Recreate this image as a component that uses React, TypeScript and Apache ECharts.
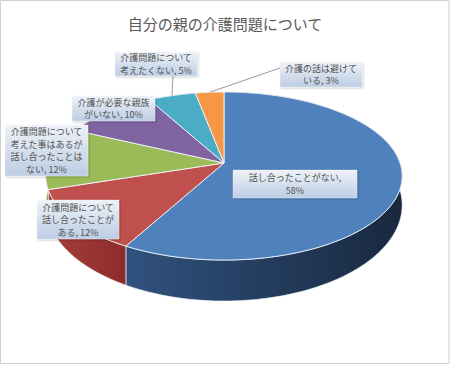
import React, { useEffect, useRef } from "react";
import * as echarts from "echarts";

const TITLE = "自分の親の介護問題について";
const categories = [
  "話し合ったことがない",
  "介護問題について話し合ったことがある",
  "介護問題について考えた事はあるが話し合ったことはない",
  "介護が必要な親族がいない",
  "介護問題について考えたくない",
  "介護の話は避けている",
];
const values = [58, 12, 12, 10, 5, 3];

// styles / layout (not data)
const topColors = ["#4F81BD", "#C0504D", "#9BBB59", "#8064A2", "#4BACC6", "#F79646"];
const wallColors = [
  ["#30527f", "#18283f"],
  ["#a6403c", "#8c2c2a"],
  ["#7d9a44", "#6a853a"],
  ["#654c85", "#553f72"],
  ["#3a8ca3", "#2f7589"],
  ["#d67a30", "#b86425"],
];
const wrapWidths = [11, 8, 8, 8, 8, 8];
const labelBoxes = [
  [233, 170, 124, 28],
  [37, 200, 82, 39],
  [5, 125, 83, 51],
  [72, 96, 83, 25],
  [115, 52, 82, 24],
  [280, 62, 82, 25],
];
const leaderStarts: (number[] | null)[] = [null, null, null, null, [173, 76], [280, 68]];

const P = { cx: 224, cy: 163, A: 176, B: 82, k: 0.155, T: 27.2, m: 0.274 };
const FONT = '"Noto Sans CJK JP", "Noto Sans", sans-serif';

function proj(phiDeg: number, down: boolean): number[] {
  const r = (phiDeg * Math.PI) / 180;
  const u = Math.sin(r);
  const v = -Math.cos(r);
  const d = 1 - P.k * v;
  const drop = down ? (P.T * (1 + P.m * v)) / d : 0;
  return [P.cx + (P.A * u) / d, P.cy + (P.B * v) / d + drop];
}

function arc(a0: number, a1: number, down: boolean): number[][] {
  const n = Math.max(2, Math.ceil(Math.abs(a1 - a0)));
  const pts: number[][] = [];
  for (let i = 0; i <= n; i++) pts.push(proj(a0 + ((a1 - a0) * i) / n, down));
  return pts;
}

function wrap(s: string, max: number): string {
  const lines: string[] = [];
  let cur = "";
  let w = 0;
  for (const ch of Array.from(s)) {
    const cw = /[\x00-\x7f]/.test(ch) ? 0.5 : 1;
    if (w + cw > max && cur.trim()) {
      lines.push(cur.trim());
      cur = "";
      w = 0;
    }
    cur += ch;
    w += cw;
  }
  if (cur.trim()) lines.push(cur.trim());
  return lines.join("\n");
}

export default function App() {
  const ref = useRef<HTMLDivElement>(null);
  useEffect(() => {
    if (!ref.current) return;
    const chart = echarts.init(ref.current, undefined, { renderer: "svg" });
    const total = values.reduce((a, b) => a + b, 0);
    const starts: number[] = [];
    let acc = 0;
    values.forEach((v) => {
      starts.push((acc / total) * 360);
      acc += v;
    });

    const renderItem = (params: any, api: any) => {
      const i = params.dataIndex;
      const v = api.value(0);
      const a0 = starts[i];
      const a1 = a0 + (v / total) * 360;
      const topArc = arc(a0, a1, false);
      const botArc = arc(a0, a1, true).reverse();
      const children: any[] = [];
      children.push({
        type: "polygon",
        z2: 1,
        shape: { points: topArc.concat(botArc) },
        style: {
          fill: new echarts.graphic.LinearGradient(0, 0, 1, 0, [
            { offset: 0, color: wallColors[i][0] },
            { offset: 1, color: wallColors[i][1] },
          ]),
          stroke: "rgba(235,240,248,0.85)",
          lineWidth: 0.8,
        },
      });
      children.push({
        type: "polygon",
        z2: 10,
        shape: { points: [[P.cx, P.cy]].concat(topArc) },
        style: { fill: topColors[i], stroke: "rgba(240,244,250,0.9)", lineWidth: 1 },
      });
      const mid = proj((a0 + a1) / 2, false);
      const ls = leaderStarts[i];
      if (ls) {
        children.push({
          type: "line",
          z2: 20,
          shape: { x1: ls[0], y1: ls[1], x2: mid[0], y2: mid[1] },
          style: { stroke: "#9a9a9a", lineWidth: 1 },
        });
      }
      const b = labelBoxes[i];
      children.push({
        type: "rect",
        z2: 30,
        shape: { x: b[0], y: b[1], width: b[2], height: b[3] },
        style: {
          fill: new echarts.graphic.LinearGradient(0, 0, 0, 1, [
            { offset: 0, color: "#eef2f8" },
            { offset: 1, color: "#bccde3" },
          ]),
          stroke: "rgba(255,255,255,0.6)",
          lineWidth: 0.5,
          shadowBlur: 2,
          shadowColor: "rgba(0,0,0,0.25)",
          shadowOffsetX: 1,
          shadowOffsetY: 1,
        },
      });
      const label = wrap(`${categories[i]}, ${v}%`, wrapWidths[i]);
      children.push({
        type: "text",
        z2: 31,
        x: b[0] + b[2] / 2,
        y: b[1] + b[3] / 2,
        style: {
          text: label,
          fill: "#505050",
          font: `9px ${FONT}`,
          align: "center",
          verticalAlign: "middle",
          textAlign: "center",
          textVerticalAlign: "middle",
          lineHeight: 12.5,
        },
      });
      return { type: "group", children };
    };

    chart.setOption({
      animation: false,
      backgroundColor: "#ffffff",
      title: {
        text: TITLE,
        left: "center",
        top: 11,
        textStyle: { fontSize: 15, color: "#595959", fontWeight: "normal", fontFamily: FONT },
      },
      graphic: [
        {
          type: "rect",
          shape: { x: 0.5, y: 0.5, width: 448.5, height: 363 },
          style: { fill: "none", stroke: "#d0d0d0", lineWidth: 1 },
          silent: true,
        },
      ],
      series: [
        {
          type: "custom",
          coordinateSystem: "none",
          silent: true,
          renderItem,
          data: values.map((v, i) => ({ value: [v], name: categories[i] })),
        },
      ],
    });
    return () => chart.dispose();
  }, []);
  return (
    <div
      ref={ref}
      style={{ position: "absolute", left: 0, top: 0, width: 450, height: 365 }}
    />
  );
}
